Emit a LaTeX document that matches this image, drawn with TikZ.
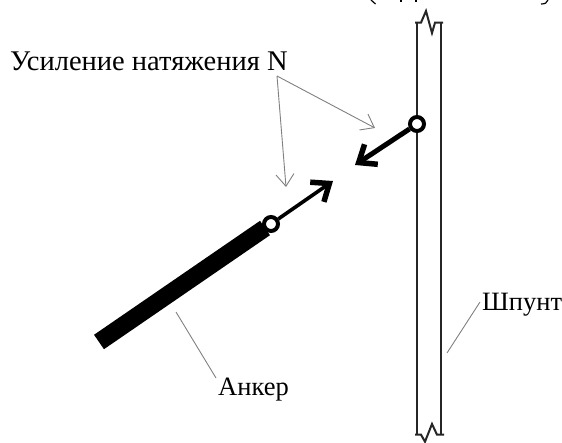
\documentclass[tikz,border=0pt]{standalone}
\usepackage{fontspec}
\setmainfont{Liberation Serif}
\usetikzlibrary{arrows.meta,positioning,calc}
\begin{document}
\begin{tikzpicture}[
  x=1pt,y=-1pt,
  font=\fontsize{26.5}{30}\selectfont,
  label/.style={inner sep=0pt,anchor=west},
  pile/.style={draw=black!85,line width=2pt},
  leader/.style={draw=black!50,line width=0.9pt},
  pointer/.style={leader,-{Straight Barb[length=12pt,width=18pt,line width=0.9pt]}},
  force/.style={draw=black,-{Straight Barb[length=15pt,width=24pt,line width=5.5pt]}},
  hinge/.style={circle,draw=black,fill=white,line width=4pt,minimum size=14pt,inner sep=0pt}
]
\useasboundingbox (0,0) rectangle (562,443);
\clip (0,0) rectangle (562,443);

% sheet pile
\draw[pile] (417,22.7) -- (417,434.7) (441,22.7) -- (441,434.7);
\draw[pile] (415,22.7) -- (421,22.7) -- (426,11) -- (432,33) -- (435,22.7) -- (443,22.7);
\draw[pile] (415,434.7) -- (421,434.7) -- (425,441.7) -- (432,424) -- (437,434.7) -- (444,434.7);

% anchor
\coordinate (barEnd) at (265,228);
\coordinate (barStart) at (99,342);
\draw[line width=17.5pt] (barEnd) -- (barStart);

\node[hinge] (upper) at (417,124) {};
\node[hinge] (lower) at (271,224) {};
\coordinate (upperTip) at (355,165);
\coordinate (lowerTip) at (333,181);

\draw[force,line width=5pt] (upper) -- (upperTip);
\draw[force,line width=3.6pt] (lower) -- (lowerTip);

\node[label,font=\fontsize{28.5}{30}\selectfont] (tension) at (10,61) {Усиление натяжения N};
\node[label] (anchor) at (218,390) {Анкер};
\node[label] (pile) at (482,305) {Шпунт};

\coordinate (tensionEnd) at (277,76);
\draw[pointer] (tensionEnd) -- (375,128);
\draw[pointer] (tensionEnd) -- (286,187);
\draw[leader] (216,378) -- (176,312);
\draw[leader] (pile.west) ++(-2,-3) -- (447,353);

% cut-off line at the top edge
\draw[line width=1.2pt] (371,0) -- (375.5,4);
\draw[line width=1.2pt] (401,0) -- (401,2) (416,0) -- (416,2);
\draw[line width=1.2pt] (548,0) .. controls (547,3) and (545,4) .. (541,4);
\end{tikzpicture}
\end{document}
